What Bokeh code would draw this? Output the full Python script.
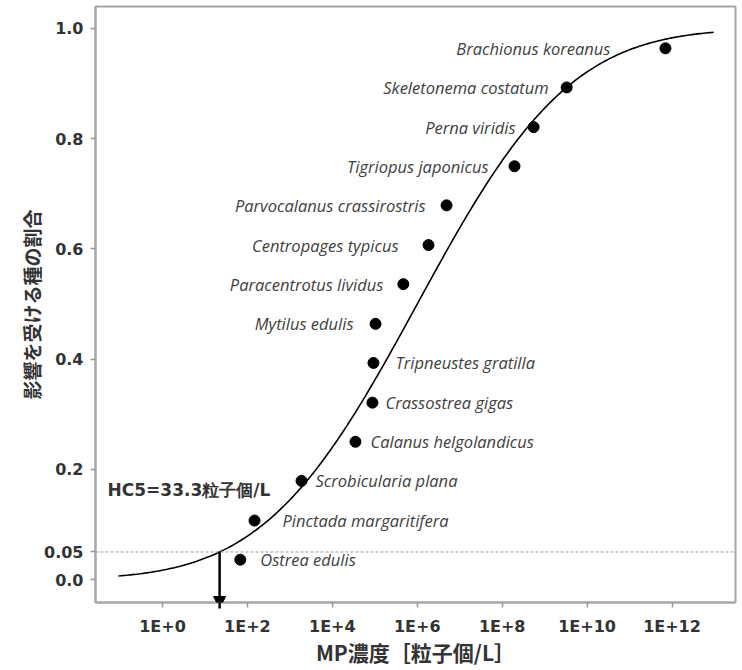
import math
from bokeh.plotting import figure
from bokeh.models import (Range1d, FixedTicker, CustomJSTickFormatter, Span, Arrow,
                          NormalHead, Label, ColumnDataSource)
from bokeh.core.properties import value
from bokeh.embed import file_html
from bokeh.resources import INLINE

# ---------------- data ----------------
species = ["Ostrea edulis", "Pinctada margaritifera", "Scrobicularia plana",
           "Calanus helgolandicus", "Crassostrea gigas", "Tripneustes gratilla",
           "Mytilus edulis", "Paracentrotus lividus", "Centropages typicus",
           "Parvocalanus crassirostris", "Tigriopus japonicus", "Perna viridis",
           "Skeletonema costatum", "Brachionus koreanus"]
concentration = [68, 147, 1.88e3, 3.5e4, 8.8e4, 9.3e4, 1.04e5, 4.7e5, 1.84e6,
                 4.9e6, 1.95e8, 5.5e8, 3.3e9, 7.0e11]
fraction = [0.036, 0.107, 0.179, 0.250, 0.321, 0.393, 0.464, 0.536, 0.607,
            0.679, 0.750, 0.821, 0.893, 0.964]

# fitted log-normal species sensitivity distribution (log10 units)
ssd_mu_log10 = 6.0
ssd_sigma_log10 = 2.83
curve_log10_start = -1.04
curve_log10_end = 12.98

hc5_fraction = 0.05
hc5_text = "HC5=33.3粒子個/L"

x_ticks = [1, 1e2, 1e4, 1e6, 1e8, 1e10, 1e12]
y_ticks = [0.0, 0.05, 0.2, 0.4, 0.6, 0.8, 1.0]
y_tick_labels = ["0.0", "0.05", "0.2", "0.4", "0.6", "0.8", "1.0"]

x_title = "MP濃度［粒子個/L］"
y_title = "影響を受ける種の割合"

# ---------------- label placement (layout only) ----------------
label_side = ["R", "R", "R", "R", "R", "R", "L", "L", "L", "L", "L", "L", "L", "L"]
label_gap = [20, 28, 14, 15, 13, 22, 22, 20, 30, 21, 26, 18, 18, 55]

# ---------------- curve from the fitted model ----------------
def ssd_cdf(log10c):
    z = (log10c - ssd_mu_log10) / ssd_sigma_log10
    return 0.5 * (1.0 + math.erf(z / math.sqrt(2.0)))

n_curve = 300
curve_log = [curve_log10_start + (curve_log10_end - curve_log10_start) * i / (n_curve - 1)
             for i in range(n_curve)]
curve_x = [10 ** v for v in curve_log]
curve_y = [ssd_cdf(v) for v in curve_log]
hc5_conc = 10 ** (ssd_mu_log10 - 1.6449 * ssd_sigma_log10)

# ---------------- figure ----------------
x_lo, x_hi = 10 ** -1.578, 10 ** 13.495
y_lo, y_hi = -0.0417, 1.0399
p = figure(width=742, height=670, x_axis_type="log",
           x_range=Range1d(x_lo, x_hi), y_range=Range1d(y_lo, y_hi),
           output_backend="svg", toolbar_location=None,
           min_border_left=95, min_border_right=7, min_border_top=6,
           min_border_bottom=68)
p.background_fill_color = "white"
p.border_fill_color = "white"
p.outline_line_color = "#a6a6a6"
p.outline_line_width = 2
p.xgrid.visible = False
p.ygrid.visible = False

TICK_FONT = "DejaVu Sans"
for ax in (p.xaxis[0], p.yaxis[0]):
    ax.axis_line_color = "#a6a6a6"
    ax.axis_line_width = 2
    ax.major_tick_line_color = "#999999"
    ax.major_tick_line_width = 1.5
    ax.major_tick_in = 0
    ax.major_tick_out = 5
    ax.minor_tick_line_color = None
    ax.major_label_text_font = TICK_FONT
    ax.major_label_text_font_style = "bold"
    ax.major_label_text_font_size = "16px"
    ax.major_label_text_color = "#333333"
    ax.axis_label_text_font = "Noto Sans CJK JP"
    ax.axis_label_text_font_style = "bold"
    ax.axis_label_text_color = "#333333"

p.xaxis.ticker = FixedTicker(ticks=x_ticks)
p.xaxis.formatter = CustomJSTickFormatter(
    code="return '1E+' + Math.round(Math.log10(tick));")
p.xaxis.major_label_standoff = 9
p.xaxis.axis_label = x_title
p.xaxis.axis_label_text_font_size = "21px"
p.xaxis.axis_label_standoff = -2

p.yaxis.ticker = FixedTicker(ticks=y_ticks)
p.yaxis.major_label_overrides = {t: s for t, s in zip(y_ticks, y_tick_labels)}
p.yaxis.major_label_standoff = 7
p.yaxis.axis_label = y_title
p.yaxis.axis_label_text_font_size = "19px"
p.yaxis.axis_label_standoff = -4

# dashed 5% line
p.add_layout(Span(location=hc5_fraction, dimension="width", line_color="#999999",
                  line_dash="3 2", line_width=1))

# fitted curve
p.line(curve_x, curve_y, line_color="black", line_width=1.6)

# species points
p.scatter(concentration, fraction, size=11, fill_color="black", line_color="black")

# species labels
L = [i for i, s in enumerate(label_side) if s == "L"]
R = [i for i, s in enumerate(label_side) if s == "R"]
for idx, align, sign in ((L, "right", -1), (R, "left", 1)):
    src = ColumnDataSource(dict(
        x=[concentration[i] for i in idx],
        y=[fraction[i] for i in idx],
        t=[species[i] for i in idx],
        dx=[sign * label_gap[i] for i in idx]))
    p.text(x="x", y="y", text="t", source=src, x_offset="dx", y_offset=0,
           text_align=align, text_baseline="middle",
           text_font=value("Open Sans"), text_font_style="italic",
           text_font_size="16.5px", text_color="#404040")

# HC5 arrow and label
p.add_layout(Arrow(end=NormalHead(size=12, fill_color="black", line_color="black"),
                   x_start=hc5_conc, y_start=hc5_fraction,
                   x_end=hc5_conc, y_end=-0.0526,
                   line_color="black", line_width=2.5))
p.add_layout(Label(x=10 ** -1.294, y=0.163, text=hc5_text,
                   text_font="DejaVu Sans", text_font_style="bold",
                   text_font_size="17px", text_color="#333333",
                   text_align="left", text_baseline="middle"))

open("out.html", "w").write(file_html(p, INLINE))
